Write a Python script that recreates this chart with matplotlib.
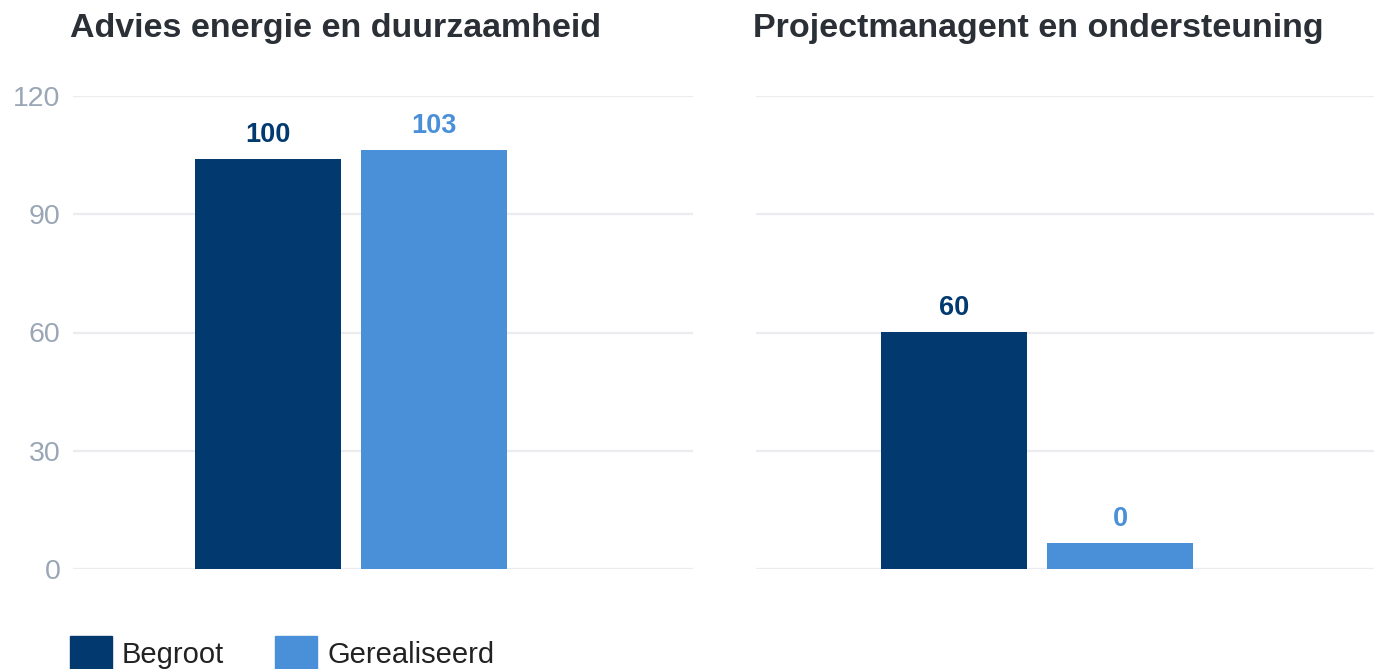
import matplotlib
matplotlib.use("Agg")
import matplotlib.pyplot as plt
from matplotlib.patches import Patch

plt.rcParams['font.family'] = ['Liberation Sans', 'DejaVu Sans']

# data
titles = ["Advies energie en duurzaamheid", "Projectmanagent en ondersteuning"]
series = ["Begroot", "Gerealiseerd"]
# drawn bar heights (as they appear against the axis)
begroot_bars = [104.1, 60.1]
gerealiseerd_bars = [106.3, 6.6]
# printed value labels
begroot_labels = ["100", "60"]
gerealiseerd_labels = ["103", "0"]
yticks = [0, 30, 60, 90, 120]

dark = "#023a70"
light = "#4a90d9"
grid_c = "#ececf0"
tick_c = "#9aa6b6"
title_c = "#2b3036"

W, H = 1374, 669
fig = plt.figure(figsize=(W / 100, H / 100), dpi=100)

bottom = (H - 569) / H
height = 473 / H
lefts = [73, 756]
widths = [620, 618]
centers = [278, 281]
unit = 560.0
bw = 146 / unit
off = 83 / unit

for i in range(2):
    ax = fig.add_axes([lefts[i] / W, bottom, widths[i] / W, height])
    ax.set_xlim(-centers[i] / unit, (widths[i] - centers[i]) / unit)
    ax.set_ylim(0, 120)
    vals = [begroot_bars[i], gerealiseerd_bars[i]]
    labs = [begroot_labels[i], gerealiseerd_labels[i]]
    cols = [dark, light]
    for j in range(2):
        x = -off if j == 0 else off
        ax.bar(x, vals[j], width=bw, color=cols[j], zorder=3)
        ax.annotate(labs[j], (x, vals[j]), xytext=(0, 8), textcoords='offset points',
                    ha='center', va='bottom', fontsize=19.5, fontweight='bold', color=cols[j])
    ax.set_yticks(yticks)
    ax.grid(axis='y', color=grid_c, linewidth=1.6, zorder=0)
    ax.set_xticks([])
    for s in ax.spines.values():
        s.set_visible(False)
    ax.tick_params(axis='y', length=0, pad=9, labelsize=20.5, labelcolor=tick_c)
    if i == 1:
        ax.set_yticklabels([])
    fig.text((lefts[i] - 3) / W, 1 - 37 / H, titles[i], fontsize=24.5, fontweight='bold',
             color=title_c, ha='left', va='baseline')

handles = [Patch(color=dark), Patch(color=light)]
fig.legend(handles, series, loc='upper left', bbox_to_anchor=(70 / W, 1 - 636 / H),
           ncol=2, frameon=False, fontsize=21, handlelength=1.43, handleheight=1.5,
           handletextpad=0.35, columnspacing=1.75, borderpad=0, borderaxespad=0,
           labelcolor='#222222')

fig.savefig("out.png", dpi=100)
